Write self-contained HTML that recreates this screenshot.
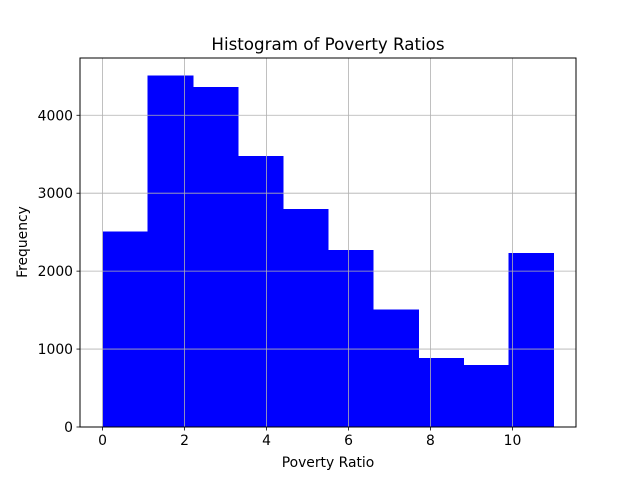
<!DOCTYPE html>
<html><head><meta charset="utf-8"><style>
body{margin:0;background:#fff;}
svg text{font-family:"DejaVu Sans","Liberation Sans",sans-serif;fill:#000;}
</style></head><body>
<svg id="chart" width="640" height="480" xmlns="http://www.w3.org/2000/svg">
<rect width="640" height="480" fill="#fff"/>
<g id="bars" shape-rendering="crispEdges"></g>
<g id="grid"></g>
<rect x="80" y="58" width="496" height="369" fill="none" stroke="#000" stroke-width="1"/>
<g id="ticks"></g>
<text x="328" y="50" font-size="16.7" text-anchor="middle">Histogram of Poverty Ratios</text>
<text x="328" y="467" font-size="13.9" text-anchor="middle">Poverty Ratio</text>
<text x="27" y="242" font-size="13.9" text-anchor="middle" transform="rotate(-90 27 242)">Frequency</text>
</svg>
<script>
const binEdges=[0,1.1,2.2,3.3,4.4,5.5,6.6,7.7,8.8,9.9,11];
const counts=[2510,4510,4360,3475,2795,2270,1510,885,795,2230];
const xTicks=[0,2,4,6,8,10];
const yTicks=[0,1000,2000,3000,4000];
const NS="http://www.w3.org/2000/svg";
const xMin=-0.55,xMax=11.55,yMax=4735;
const L=80,R=576,T=58,B=427;
const sx=v=>L+(v-xMin)/(xMax-xMin)*(R-L);
const sy=v=>B-v/yMax*(B-T);
function mk(tag,attrs,parent){const e=document.createElementNS(NS,tag);for(const k in attrs)e.setAttribute(k,attrs[k]);parent.appendChild(e);return e;}
const bars=document.getElementById('bars'),grid=document.getElementById('grid'),ticks=document.getElementById('ticks');
counts.forEach((c,i)=>{
  const x0=sx(binEdges[i]),x1=sx(binEdges[i+1]);
  const r=mk('rect',{x:x0,y:sy(c),width:x1-x0+0.6,height:B-sy(c),fill:'#0000ff'},bars);
  
  
});
xTicks.forEach(t=>{
  const x=sx(t);
  const g=mk('line',{x1:x,x2:x,y1:T,y2:B,stroke:'#b0b0b0','stroke-width':0.8},grid);
  
  
  mk('line',{x1:x,x2:x,y1:B,y2:B+3.5,stroke:'#000','stroke-width':0.8},ticks);
  const tx=mk('text',{x:x,y:B+18,'font-size':'13.9','text-anchor':'middle'},ticks);
  tx.textContent=t;
  
  
});
yTicks.forEach(t=>{
  const y=sy(t);
  const g=mk('line',{x1:L,x2:R,y1:y,y2:y,stroke:'#b0b0b0','stroke-width':0.8},grid);
  
  
  mk('line',{x1:L-3.5,x2:L,y1:y,y2:y,stroke:'#000','stroke-width':0.8},ticks);
  const tx=mk('text',{x:L-7,y:y+5,'font-size':'13.9','text-anchor':'end'},ticks);
  tx.textContent=t;
  
  
});
</script>
</body></html>
